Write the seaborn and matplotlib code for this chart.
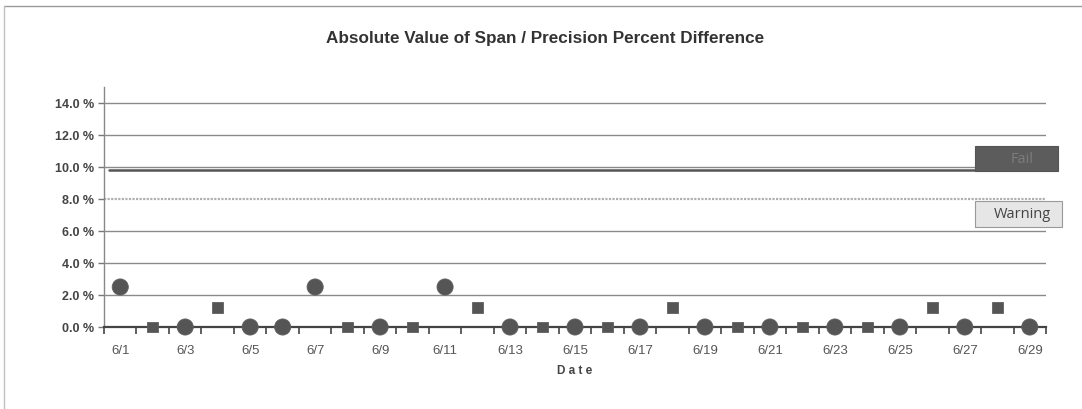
import matplotlib
matplotlib.use("Agg")
import matplotlib.pyplot as plt
import seaborn as sns
import pandas as pd
import numpy as np
from matplotlib.patches import Rectangle
from matplotlib.lines import Line2D
from matplotlib.ticker import FuncFormatter, FixedLocator

dates = [f"6/{d}" for d in range(1, 30)]
series_kind = ["Precision", "Span", "Precision", "Span", "Precision", "Precision", "Precision",
               "Span", "Precision", "Span", "Precision", "Span", "Precision", "Span",
               "Precision", "Span", "Precision", "Span", "Precision", "Span", "Precision",
               "Span", "Precision", "Span", "Precision", "Span", "Precision", "Span", "Precision"]
values = [0.025, 0.0, 0.0, 0.012, 0.0, 0.0, 0.025, 0.0, 0.0, 0.0, 0.025, 0.012, 0.0, 0.0,
          0.0, 0.0, 0.0, 0.012, 0.0, 0.0, 0.0, 0.0, 0.0, 0.0, 0.0, 0.012, 0.0, 0.012, 0.0]
y_ticks = [0.0, 0.02, 0.04, 0.06, 0.08, 0.10, 0.12, 0.14]
fail_level = 0.098
warning_level = 0.08

df = pd.DataFrame({"Date": dates, "Value": values, "Series": series_kind})

sns.set_theme(style="white")
plt.rcParams["font.family"] = ["Liberation Sans", "DejaVu Sans"]
plt.rcParams["xtick.bottom"] = True
plt.rcParams["ytick.left"] = True
plt.rcParams["xtick.minor.visible"] = True

fig = plt.figure(figsize=(10.82, 4.10), dpi=100)
ax = fig.add_axes([104/1082, 82/410, 942/1082, 240/410])

grid_c = "#8a8a8a"
for yv in y_ticks[1:]:
    if abs(yv - warning_level) < 1e-9:
        continue
    ax.axhline(yv, color=grid_c, lw=1.0, zorder=1)
ax.axhline(warning_level, color="#b0b0b0", lw=1.6, ls=(0, (1, 0.6)), zorder=1)
ax.axhline(fail_level, color="#555555", lw=1.8, zorder=1, xmin=0.005)

mc = "#555555"
sns.scatterplot(data=df, x="Date", y="Value", style="Series", size="Series",
                markers={"Precision": "o", "Span": "s"},
                sizes={"Precision": 135, "Span": 60},
                color=mc, edgecolor="#606060", linewidth=0.6,
                legend=False, ax=ax, zorder=5, clip_on=False)

ax.set_xlim(-0.5, len(dates) - 0.5)
ax.set_ylim(0, 0.15)
ax.yaxis.set_major_locator(FixedLocator(y_ticks))
ax.yaxis.set_minor_locator(FixedLocator([]))
ax.yaxis.set_major_formatter(FuncFormatter(lambda v, p: f"{v*100:.1f} %"))
ax.xaxis.set_major_locator(FixedLocator(list(range(0, len(dates), 2))))
ax.xaxis.set_major_formatter(FuncFormatter(lambda v, p: dates[int(round(v))]
                                           if 0 <= int(round(v)) < len(dates) else ""))
ax.xaxis.set_minor_locator(FixedLocator(list(np.arange(-0.5, len(dates), 1.0))))

ax.tick_params(axis="x", which="major", bottom=True, length=0, pad=12, labelsize=9.5,
               labelcolor="#555555")
ax.tick_params(axis="x", which="minor", bottom=True, length=5, width=1.2, color="#444444",
               direction="out")
ax.tick_params(axis="y", which="major", left=True, length=4, width=1, color="#777777",
               direction="out", labelsize=9, labelcolor="#444444", pad=3)
for lab in ax.get_yticklabels():
    lab.set_fontweight("bold")

for s in ["top", "right"]:
    ax.spines[s].set_visible(False)
ax.spines["left"].set_color("#888888")
ax.spines["left"].set_linewidth(1.0)
ax.spines["bottom"].set_color("#444444")
ax.spines["bottom"].set_linewidth(1.6)

ax.set_xlabel("D a t e", fontsize=8.5, fontweight="bold", color="#444444", labelpad=6)
ax.set_ylabel("")

fig.text(0.504, 0.905, "Absolute Value of Span / Precision Percent Difference",
         ha="center", va="center", fontsize=12.3, fontweight="bold", color="#333333")

# Fail / Warning labels
fig.add_artist(Rectangle((975/1082, 1 - 172/410), 83/1082, 25/410, transform=fig.transFigure,
                         facecolor="#5c5c5c", edgecolor="#555555", lw=0.8, zorder=10))
fig.text((975 + 83/2 + 6)/1082, 1 - 160/410, "Fail", ha="center", va="center",
         fontsize=10.5, color="#7c7c7c", family=["Open Sans", "DejaVu Sans"], zorder=11)
fig.add_artist(Rectangle((975/1082, 1 - 228/410), 87/1082, 26/410, transform=fig.transFigure,
                         facecolor="#e6e6e6", edgecolor="#9a9a9a", lw=0.8, zorder=10))
fig.text((975 + 87/2 + 4)/1082, 1 - 215/410, "Warning", ha="center", va="center",
         fontsize=10.5, color="#444444", family=["Open Sans", "DejaVu Sans"], zorder=11)

# outer frame
fig.add_artist(Line2D([4/1082, 1], [1 - 7/410, 1 - 7/410], transform=fig.transFigure,
                      color="#9a9a9a", lw=1.0))
fig.add_artist(Line2D([4/1082, 4/1082], [0, 1 - 7/410], transform=fig.transFigure,
                      color="#c0c0c0", lw=1.0))

fig.savefig("out.png", dpi=100, facecolor="white")
